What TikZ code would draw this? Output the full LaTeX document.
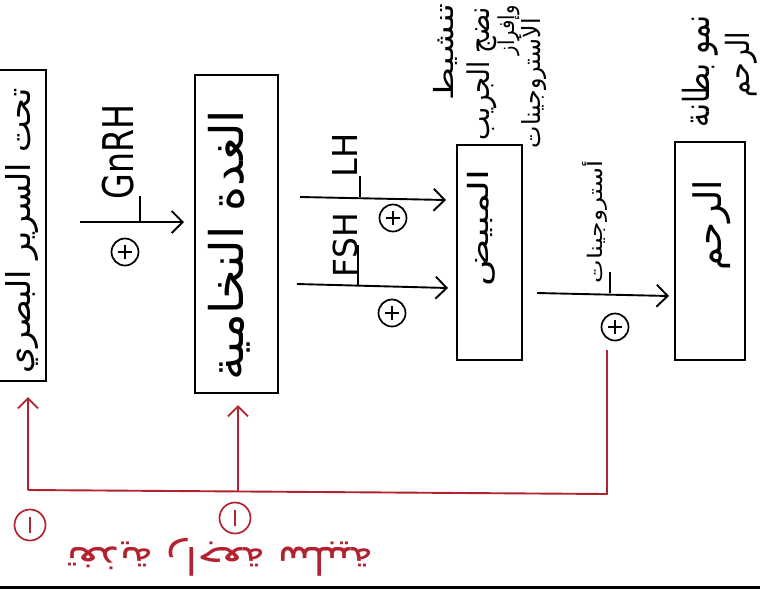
\documentclass[tikz,border=0pt]{standalone}
\usepackage{graphicx}
\usepackage{fontspec}
\usetikzlibrary{arrows.meta}
\setsansfont{DejaVu Sans}
\newfontfamily\arabicfont[Script=Arabic]{DejaVu Sans}
\TeXXeTstate=1
\definecolor{fbred}{HTML}{B3232F}
% #1 length, #2 thickness, #3 text
\newcommand\artxt[3]{\resizebox*{#1}{#2}{\arabicfont #3}}
\newcommand\latxt[3]{\resizebox*{#1}{#2}{\sffamily #3}}
\begin{document}
\begin{tikzpicture}[x=1pt,y=-1pt,
  box/.style={draw, line width=2pt, inner sep=0pt},
  txt/.style={inner sep=0pt},
  harrow/.style={line width=1.9pt, -{Straight Barb[length=11pt,width=22pt,line width=1.9pt]}},
  barline/.style={line width=1.7pt},
  plus/.style={circle, draw, line width=1.7pt, minimum size=27pt, inner sep=0pt,
    path picture={\draw[line width=1.7pt]
      ([xshift=-7pt]path picture bounding box.center) -- ([xshift=7pt]path picture bounding box.center)
      ([yshift=-7pt]path picture bounding box.center) -- ([yshift=7pt]path picture bounding box.center);}},
  minus/.style={circle, draw=fbred, line width=1.7pt, minimum size=31pt, inner sep=0pt,
    path picture={\draw[fbred, line width=1.8pt]
      ([yshift=-8pt]path picture bounding box.center) -- ([yshift=8pt]path picture bounding box.center);}},
  fb/.style={draw=fbred, line width=1.9pt},
  fbarrow/.style={fb, -{Straight Barb[length=10pt,width=20pt,line width=1.9pt]}}
]
\useasboundingbox (0,0) rectangle (760,590);
\fill[white] (0,0) rectangle (760,590);

% boxes
\node[box, minimum width=56pt, minimum height=311pt] (hyp) at (18,225.5) {};
\node[box, minimum width=83pt, minimum height=318pt] (pit) at (236.5,234) {};
\node[box, minimum width=65pt, minimum height=215pt] (ov) at (489.5,252.5) {};
\node[box, minimum width=70pt, minimum height=218pt] (ut) at (710,251) {};

% box texts
\node[txt] (hypt) at (22,231) {\rotatebox{90}{\artxt{285pt}{33pt}{\beginR تحت السرير البصري\endR}}};
\node[txt] (pitt) at (229,245) {\rotatebox{90}{\artxt{270pt}{42pt}{\beginR الغدة النخامية\endR}}};
\node[txt] (ovt) at (481,228) {\rotatebox{90}{\artxt{117pt}{28pt}{\beginR المبيض\endR}}};
\node[txt] (utt) at (712,225) {\rotatebox{90}{\artxt{90pt}{38pt}{\beginR الرحم\endR}}};

% notes above ovary
\node[txt, anchor=north] (n1) at (445,3) {\rotatebox{90}{\artxt{97pt}{24pt}{\beginR تنشيط\endR}}};
\node[txt, anchor=north] (n2) at (482,7) {\rotatebox{90}{\artxt{133pt}{30pt}{\beginR نضج الجريب\endR}}};
\node[txt, anchor=north] (n3) at (509,5) {\rotatebox{90}{\artxt{50pt}{22pt}{\beginR وإفراز\endR}}};
\node[txt, anchor=north] (n4) at (532,18) {\rotatebox{90}{\artxt{130pt}{30pt}{\beginR الأستروجينات\endR}}};

% notes above uterus
\node[txt, anchor=north] (u1) at (700,15) {\rotatebox{90}{\artxt{112pt}{36pt}{\beginR نمو بطانة\endR}}};
\node[txt, anchor=north] (u2) at (741,32) {\rotatebox{90}{\artxt{65pt}{32pt}{\beginR الرحم\endR}}};

% hormone arrows
\coordinate (ga) at (80,222);  \coordinate (gb) at (184,222);
\coordinate (la) at (300,197); \coordinate (lb) at (446,200);
\coordinate (fa) at (297,284); \coordinate (fb) at (448,288);
\coordinate (ea) at (537,293); \coordinate (eb) at (669,296);
\draw[harrow] (ga) -- (gb);
\draw[harrow] (la) -- (lb);
\draw[harrow] (fa) -- (fb);
\draw[harrow] (ea) -- (eb);

% labels
\node[txt] (gnrh) at (118,152) {\rotatebox{90}{\latxt{95pt}{32pt}{GnRH}}};
\node[txt] (lh) at (345,155) {\rotatebox{90}{\latxt{44pt}{25pt}{LH}}};
\node[txt] (fsh) at (345,245) {\rotatebox{90}{\latxt{64pt}{25pt}{FSH}}};
\node[txt] (est) at (595,222) {\rotatebox{90}{\artxt{123pt}{25pt}{\beginR أستروجينات\endR}}};

% bars next to labels
\coordinate (gb1) at (140,196); \coordinate (gb2) at (140,221);
\coordinate (lb1) at (360,176); \coordinate (lb2) at (360,197);
\coordinate (fb1) at (358,245); \coordinate (fb2) at (358,285);
\coordinate (eb1) at (610,272); \coordinate (eb2) at (610,293);
\draw[barline] (gb1) -- (gb2);
\draw[barline] (lb1) -- (lb2);
\draw[barline] (fb1) -- (fb2);
\draw[barline] (eb1) -- (eb2);

% plus signs
\node[plus] (p1) at (125,252) {};
\node[plus] (p2) at (393,218) {};
\node[plus] (p3) at (392,313) {};
\node[plus] (p4) at (615,327) {};

% feedback
\coordinate (fL) at (28,490);  \coordinate (fLt) at (28,397);
\coordinate (fM) at (238,491); \coordinate (fMt) at (238,405);
\coordinate (fR) at (607,494); \coordinate (fRt) at (607,350);
\draw[fb] (fRt) -- (fR) -- (fL);
\draw[fbarrow] (fL) -- (fLt);
\draw[fbarrow] (fM) -- (fMt);
\node[minus] (m1) at (30,525) {};
\node[minus] (m2) at (235,518) {};
\node[txt, text=fbred] (fbt) at (220,557) {\rotatebox{180}{\artxt{306pt}{38pt}{\beginR تغذية راجعة سلبية\endR}}};

% bottom rule
\coordinate (bl) at (0,587); \coordinate (br) at (760,587);
\draw[line width=3pt] (bl) -- (br);
\end{tikzpicture}
\end{document}
